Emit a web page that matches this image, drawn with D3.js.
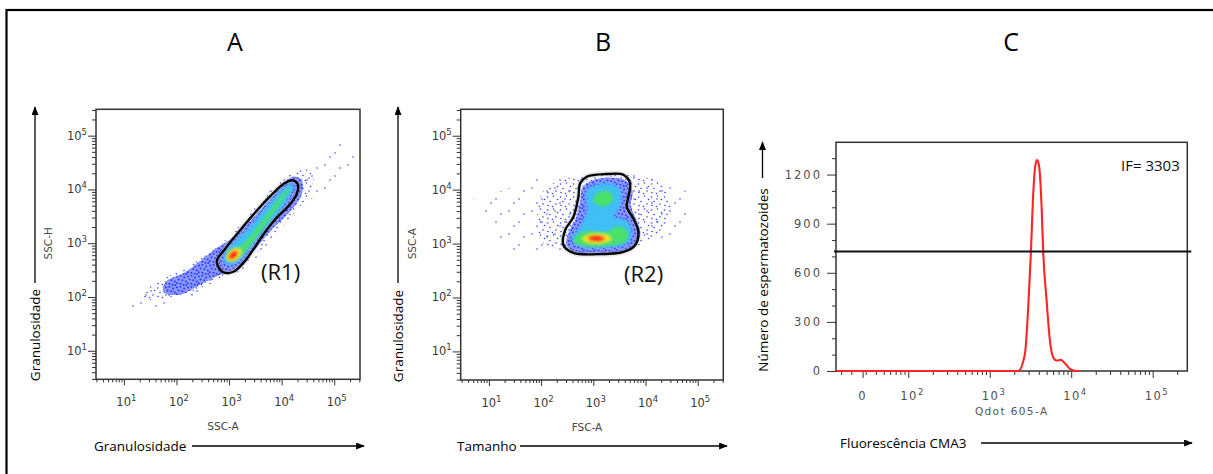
<!DOCTYPE html>
<html><head><meta charset="utf-8">
<script src="https://cdn.jsdelivr.net/npm/d3@7/dist/d3.min.js"></script>
<style>html,body{margin:0;padding:0;background:#fff;}svg{display:block;}</style>
</head><body>
<svg id="chart" width="1213" height="474"></svg>
<script>
// ================= DATA =================
const panelTitles = ["A", "B", "C"];
const xTitles = ["Granulosidade", "Tamanho", "Fluorescência CMA3"];
const yTitles = ["Granulosidade", "Granulosidade", "Número de espermatozoides"];
const channelX = ["SSC-A", "FSC-A", "Qdot 605-A"];
const channelY = ["SSC-H", "SSC-A"];
const gateNames = ["(R1)", "(R2)"];
const decadeExponents = [1, 2, 3, 4, 5];

// Panel A density levels, points in log10 units [log10 SSC-A, log10 SSC-H]
const aSparse = [[1.18,1.73],[1.56,1.79],[2.19,1.95],[2.70,2.17],[3.00,2.35],[3.46,2.66],[3.90,3.16],[4.28,3.59],[4.60,3.84],[4.98,3.96],[5.30,4.40],[5.42,4.70],[5.30,4.82],[4.98,4.85],[4.54,4.58],[4.28,4.33],[3.90,4.09],[3.59,3.71],[3.27,3.34],[2.95,2.97],[2.70,2.79],[2.32,2.54],[1.94,2.35],[1.56,2.17],[1.30,1.98],[1.15,1.85]];
const aSpeckle = [[1.45,1.95],[2.10,2.05],[2.60,2.22],[3.00,2.42],[3.40,2.70],[3.85,3.15],[4.30,3.62],[4.55,3.95],[4.60,4.25],[4.40,4.40],[4.10,4.25],[3.75,3.95],[3.35,3.50],[3.00,3.12],[2.70,2.88],[2.30,2.62],[1.90,2.42],[1.50,2.20],[1.35,2.05]];
const aBlue = [[1.75,2.10],[2.06,2.04],[2.51,2.26],[2.82,2.41],[3.14,2.54],[3.46,2.85],[3.78,3.22],[4.16,3.59],[4.38,3.90],[4.38,4.18],[4.22,4.24],[3.97,4.02],[3.65,3.68],[3.33,3.34],[3.01,3.06],[2.76,2.91],[2.44,2.66],[2.13,2.44],[1.81,2.29]];
const aCyan = [[2.92,2.63],[3.14,2.63],[3.40,2.91],[3.71,3.28],[4.03,3.68],[4.22,4.02],[4.19,4.12],[4.03,4.02],[3.71,3.68],[3.40,3.31],[3.11,3.03],[2.92,2.85]];
const aGreen = [[2.98,2.69],[3.21,2.75],[3.46,3.03],[3.78,3.47],[4.09,3.90],[4.16,4.02],[4.09,3.99],[3.74,3.56],[3.43,3.16],[3.17,2.91],[2.98,2.82]];
const aYellow = [[2.95,2.70],[3.02,2.66],[3.14,2.69],[3.23,2.79],[3.22,2.89],[3.12,2.91],[3.00,2.84]];
const aRed = [[3.00,2.72],[3.06,2.71],[3.14,2.77],[3.16,2.84],[3.10,2.85],[3.02,2.79]];
const gateR1 = [[2.79,2.57],[2.89,2.46],[3.08,2.47],[3.27,2.63],[3.46,2.88],[3.65,3.16],[3.90,3.47],[4.12,3.68],[4.28,3.90],[4.31,4.09],[4.22,4.17],[4.06,4.12],[3.78,3.87],[3.46,3.53],[3.14,3.16],[2.89,2.85],[2.77,2.69]];

// Panel B density levels, points in log10 units [log10 FSC-A, log10 SSC-A]
const bSparse = [[0.70,3.88],[1.22,3.97],[1.79,4.18],[2.43,4.24],[3.26,4.32],[4.15,4.22],[4.66,4.02],[4.98,3.85],[4.79,3.50],[4.60,3.25],[4.41,3.10],[3.83,2.85],[2.75,2.84],[1.98,2.88],[1.27,2.92],[1.10,3.35]];
const bSpeckle = [[2.05,3.99],[2.49,4.21],[3.07,4.30],[3.70,4.27],[4.28,4.12],[4.47,3.81],[4.34,3.31],[3.96,3.00],[3.26,2.89],[2.49,2.91],[2.05,3.00],[1.92,3.43]];
const bBlue = [[2.80,4.05],[3.00,4.18],[3.30,4.22],[3.60,4.18],[3.75,3.98],[3.72,3.70],[3.82,3.45],[3.90,3.20],[3.80,2.95],[3.50,2.85],[3.05,2.83],[2.60,2.86],[2.48,3.00],[2.55,3.25],[2.68,3.50],[2.75,3.80]];
const bCyan = [[2.88,3.99],[3.26,4.12],[3.51,4.02],[3.51,3.68],[3.39,3.50],[3.64,3.43],[3.74,3.22],[3.64,3.00],[3.26,2.93],[2.75,2.95],[2.59,3.09],[2.75,3.31],[2.88,3.62]];
const bGreenTop = [[3.00,3.80],[3.10,3.95],[3.30,3.97],[3.38,3.85],[3.30,3.72],[3.12,3.70]];
const bGreenLow = [[2.62,3.06],[2.81,3.22],[3.26,3.22],[3.45,3.31],[3.64,3.25],[3.64,3.06],[3.39,2.97],[2.75,2.97]];
const bYellow = [[2.78,3.10],[2.90,3.17],[3.10,3.19],[3.30,3.15],[3.35,3.08],[3.20,3.01],[2.90,3.01]];
const bRed = [[2.90,3.10],[3.00,3.14],[3.15,3.13],[3.22,3.09],[3.12,3.05],[2.96,3.06]];
const gateR2 = [[2.747,4.116],[2.875,4.240],[3.258,4.290],[3.577,4.277],[3.704,4.116],[3.672,3.868],[3.640,3.683],[3.768,3.466],[3.864,3.218],[3.800,2.970],[3.577,2.846],[3.066,2.803],[2.620,2.828],[2.428,2.970],[2.460,3.249],[2.620,3.497],[2.715,3.868]];

// Panel C histogram (Qdot 605-A fluorescence vs count)
const histFluor = [13, 500, 1500, 2000, 2237, 2704, 2966, 3203, 3418, 3657, 3826, 4048, 4331, 4532, 4988, 5478, 6011, 6617, 7477, 8371, 9643, 11650, 13000];
const histCount = [0, 0, 0, 0, 0, 105, 389, 729, 1082, 1265, 1289, 1245, 1002, 729, 431, 186, 84, 64, 68, 47, 13, 0, 0];
const histXTicks = [0, 100, 1000, 10000, 100000];
const histXTickExp = ["", "2", "3", "4", "5"];
const histYTicks = [0, 300, 600, 900, 1200];
const histYMinor = [100, 200, 400, 500, 700, 800, 1000, 1100, 1300];
const markerCount = 730;
const meanLabel = "IF= 3303";

// ================= DRAWING =================
const svg = d3.select("#chart");
const defs = svg.append("defs");
const SANS = "'Open Sans', 'DejaVu Sans', sans-serif";
const TICKF = "'DejaVu Sans', Verdana, sans-serif";

// outer border (top and left edges visible)
svg.append("rect").attr("x", 6.5).attr("y", 10).attr("width", 1240).attr("height", 500)
  .attr("fill", "none").attr("stroke", "#000").attr("stroke-width", 2.2);

function addPattern(id, size, bg, dots, r, color) {
  const p = defs.append("pattern").attr("id", id).attr("patternUnits", "userSpaceOnUse")
    .attr("width", size).attr("height", size);
  if (bg) p.append("rect").attr("width", size).attr("height", size).attr("fill", bg);
  dots.forEach(([cx, cy]) => p.append("circle").attr("cx", cx).attr("cy", cy).attr("r", r).attr("fill", color));
}
addPattern("pSparse", 23, null, [[3, 4], [13, 15], [18, 7], [8, 19]], 0.8, "#3346ff");
addPattern("pSpeckle", 13, null, [[1.5, 2], [7.5, 1], [4, 6.5], [10, 9], [11.5, 4.5], [2, 10.5], [6.5, 11.5]], 0.8, "#3040ff");
addPattern("pBlue", 11, "#8594ff", [[1, 1.5], [4.5, 0.8], [8.2, 2.4], [2.6, 4.6], [6.3, 5.2], [9.8, 6.6], [0.8, 8.2], [4.4, 8.8], [7.6, 9.7], [10.4, 10.2]], 1.0, "#1c2eff");

const soft = defs.append("filter").attr("id", "soft").attr("x", "-30%").attr("y", "-30%").attr("width", "160%").attr("height", "160%");
soft.append("feGaussianBlur").attr("stdDeviation", 1.4);
const shadow = defs.append("filter").attr("id", "shadow").attr("x", "-20%").attr("y", "-20%").attr("width", "140%").attr("height", "140%");
shadow.append("feGaussianBlur").attr("stdDeviation", 1.2);

const arrow = defs.append("marker").attr("id", "arrow").attr("viewBox", "0 0 10 8")
  .attr("refX", 9).attr("refY", 4).attr("markerWidth", 9).attr("markerHeight", 7)
  .attr("markerUnits", "userSpaceOnUse").attr("orient", "auto");
arrow.append("path").attr("d", "M0,0 L10,4 L0,8 Z").attr("fill", "#000");

// titles
const titleX = [235, 603, 1011];
panelTitles.forEach((t, i) => svg.append("text").attr("x", titleX[i]).attr("y", 51)
  .attr("text-anchor", "middle").attr("font-family", SANS).attr("font-size", 25).attr("fill", "#000").text(t));

function minorLogTicks(lo, hi) {
  const out = [];
  for (let n = 0; n <= 5; n++) for (let k = 2; k <= 9; k++) {
    const v = k * Math.pow(10, n);
    if (v >= lo && v <= hi) out.push(v);
  }
  return out;
}

function supLabel(sel, exp, sfs) {
  sel.append("tspan").text("10");
  sel.append("tspan").attr("font-size", sfs).attr("dy", -5).text(exp);
}

function densityPanel(cfg) {
  const { x, y, box, levels, gate, gateLabel, gateLabelPos, idx } = cfg;
  const g = svg.append("g");
  const clipId = "clip" + idx;
  defs.append("clipPath").attr("id", clipId).append("rect")
    .attr("x", box[0]).attr("y", box[1]).attr("width", box[2] - box[0]).attr("height", box[3] - box[1]);
  const line = d3.line().x(d => x(Math.pow(10, d[0]))).y(d => y(Math.pow(10, d[1])))
    .curve(d3.curveCatmullRomClosed.alpha(0.5));
  const dg = g.append("g").attr("clip-path", `url(#${clipId})`);
  levels.forEach(L => {
    const p = dg.append("path").attr("d", line(L.pts)).attr("fill", L.fill);
    if (L.blur) p.attr("filter", "url(#soft)");
    if (L.opacity) p.attr("opacity", L.opacity);
  });
  dg.append("path").attr("d", line(gate)).attr("fill", "none").attr("stroke", "#9a9a9a")
    .attr("stroke-width", 4).attr("opacity", 0.5).attr("filter", "url(#shadow)");
  dg.append("path").attr("d", line(gate)).attr("fill", "none").attr("stroke", "#000").attr("stroke-width", 2.3);
  g.append("text").attr("x", gateLabelPos[0]).attr("y", gateLabelPos[1]).attr("dominant-baseline", "central")
    .attr("font-family", SANS).attr("font-size", 22).attr("fill", "#111").text(gateLabel);

  g.append("rect").attr("x", box[0]).attr("y", box[1]).attr("width", box[2] - box[0]).attr("height", box[3] - box[1])
    .attr("fill", "none").attr("stroke", "#333").attr("stroke-width", 1.5);

  const dom = x.domain();
  const minor = minorLogTicks(dom[0], dom[1]);
  const majors = decadeExponents.map(e => Math.pow(10, e));
  const gx = g.append("g").attr("transform", `translate(0,${box[3]})`);
  gx.append("g").call(d3.axisBottom(x).tickValues(minor).tickSize(3).tickFormat("")).call(s => s.select(".domain").remove());
  gx.append("g").call(d3.axisBottom(x).tickValues(majors).tickSize(6).tickFormat("")).call(s => s.select(".domain").remove());
  gx.selectAll("line").attr("stroke", "#333");
  decadeExponents.forEach(e => {
    const t = gx.append("text").attr("x", x(Math.pow(10, e)) - 7.5).attr("y", 27)
      .attr("font-family", TICKF).attr("font-size", 11.5).attr("fill", "#383838");
    supLabel(t, e, 8.5);
  });
  const domY = y.domain();
  const minorY = minorLogTicks(domY[0], domY[1]);
  const gy = g.append("g").attr("transform", `translate(${box[0]},0)`);
  gy.append("g").call(d3.axisLeft(y).tickValues(minorY).tickSize(4).tickFormat("")).call(s => s.select(".domain").remove());
  gy.append("g").call(d3.axisLeft(y).tickValues(majors).tickSize(8).tickFormat("")).call(s => s.select(".domain").remove());
  gy.selectAll("line").attr("stroke", "#333");
  decadeExponents.forEach(e => {
    const t = gy.append("text").attr("x", -9).attr("y", y(Math.pow(10, e)) + 4)
      .attr("text-anchor", "end").attr("font-family", TICKF).attr("font-size", 11.5).attr("fill", "#383838");
    supLabel(t, e, 8.5);
  });
  g.append("text").attr("x", (box[0] + box[2]) / 2 - 5).attr("y", box[3] + 51).attr("text-anchor", "middle")
    .attr("font-family", TICKF).attr("font-size", 10.5).attr("fill", "#444").text(channelX[idx]);
  g.append("text").attr("transform", `translate(${cfg.chanYX},${(box[1] + box[3]) / 2 - 1}) rotate(-90)`)
    .attr("text-anchor", "middle").attr("font-family", TICKF).attr("font-size", 10.5).attr("fill", "#444").text(channelY[idx]);
}

function levelsFrom(sp, spk, blue, cyan, greens, yellow, red) {
  const arr = [
    { pts: sp, fill: "url(#pSparse)" },
    { pts: spk, fill: "url(#pSpeckle)" },
    { pts: blue, fill: "url(#pBlue)", opacity: 0.95 },
    { pts: cyan, fill: "#3cc3f5", blur: true, opacity: 0.95 }
  ];
  greens.forEach(gp => arr.push({ pts: gp, fill: "#48e06a", blur: true }));
  arr.push({ pts: yellow, fill: "#f3e22e", blur: true });
  arr.push({ pts: red, fill: "#ff2a10", blur: true });
  return arr;
}

// Panel A
const xA = d3.scaleLog().domain([Math.pow(10, 0.47), Math.pow(10, 5.49)]).range([96, 360]);
const yA = d3.scaleLog().domain([Math.pow(10, 0.47), Math.pow(10, 5.49)]).range([379.3, 109.3]);
densityPanel({ idx: 0, x: xA, y: yA, box: [96, 109.3, 360, 379.3], chanYX: 52,
  levels: levelsFrom(aSparse, aSpeckle, aBlue, aCyan, [aGreen], aYellow, aRed),
  gate: gateR1, gateLabel: gateNames[0], gateLabelPos: [261, 271] });

// Panel B
const xB = d3.scaleLog().domain([Math.pow(10, 0.46), Math.pow(10, 5.49)]).range([460.7, 723.3]);
const yB = d3.scaleLog().domain([Math.pow(10, 0.47), Math.pow(10, 5.49)]).range([380, 109.3]);
densityPanel({ idx: 1, x: xB, y: yB, box: [460.7, 109.3, 723.3, 380], chanYX: 416,
  levels: levelsFrom(bSparse, bSpeckle, bBlue, bCyan, [bGreenTop, bGreenLow], bYellow, bRed),
  gate: gateR2, gateLabel: gateNames[1], gateLabelPos: [624, 273] });

// Panel C
const boxC = [836, 142.3, 1187.3, 371];
const zeroDisplay = 27.5; // fluorescence value where the "0" of the display axis sits
const xC = d3.scaleLog().domain([12.97, 266000]).range([boxC[0], boxC[2]]);
const yC = d3.scaleLinear().domain([0, 1397]).range([boxC[3], boxC[1]]);
const gC = svg.append("g");
gC.append("rect").attr("x", boxC[0]).attr("y", boxC[1]).attr("width", boxC[2] - boxC[0]).attr("height", boxC[3] - boxC[1])
  .attr("fill", "none").attr("stroke", "#333").attr("stroke-width", 1.5);
const gyC = gC.append("g").attr("transform", `translate(${boxC[0]},0)`);
gyC.append("g").call(d3.axisLeft(yC).tickValues(histYMinor).tickSize(4).tickFormat("")).call(s => s.select(".domain").remove());
gyC.append("g").call(d3.axisLeft(yC).tickValues(histYTicks).tickSize(9).tickFormat("")).call(s => s.select(".domain").remove());
gyC.selectAll("line").attr("stroke", "#333");
histYTicks.forEach(v => gyC.append("text").attr("x", -14).attr("y", yC(v) + 4).attr("text-anchor", "end")
  .attr("font-family", TICKF).attr("font-size", 11.5).attr("letter-spacing", 2).attr("fill", "#505050").text(v));
const cxPos = v => xC(v <= 0 ? zeroDisplay : v);
const histXMinor = [15, 20, 30, 40, 50, 60, 70, 80, 90].concat(minorLogTicks(100, 266000));
const gxC = gC.append("g").attr("transform", `translate(0,${boxC[3]})`);
gxC.append("g").call(d3.axisBottom(xC).tickValues(histXMinor).tickSize(4).tickFormat("")).call(s => s.select(".domain").remove());
gxC.append("g").call(d3.axisBottom(xC).tickValues(histXTicks.map(v => v <= 0 ? zeroDisplay : v)).tickSize(7).tickFormat("")).call(s => s.select(".domain").remove());
gxC.selectAll("line").attr("stroke", "#333");
histXTicks.forEach((v, i) => {
  const t = gxC.append("text").attr("y", 29).attr("font-family", TICKF).attr("font-size", 11.5)
    .attr("letter-spacing", 1.5).attr("fill", "#505050");
  if (v === 0) { t.attr("x", cxPos(v)).attr("text-anchor", "middle").text("0"); }
  else { t.attr("x", cxPos(v) - 8); supLabel(t, histXTickExp[i], 8.5); }
});
gC.append("text").attr("x", 1011.7).attr("y", 415).attr("text-anchor", "middle").attr("font-family", TICKF)
  .attr("font-size", 10.5).attr("letter-spacing", 1.4).attr("fill", "#555").text(channelX[2]);
const histPts = histFluor.map((f, i) => [f, histCount[i]]);
gC.append("path").attr("d", d3.line().x(d => xC(d[0])).y(d => yC(d[1])).curve(d3.curveMonotoneX)(histPts))
  .attr("fill", "none").attr("stroke", "#ff2424").attr("stroke-width", 2.1).attr("stroke-linejoin", "round");
gC.append("line").attr("x1", boxC[0] - 2).attr("x2", boxC[2] + 4).attr("y1", yC(markerCount)).attr("y2", yC(markerCount))
  .attr("stroke", "#111").attr("stroke-width", 2);
gC.append("text").attr("x", 1121).attr("y", 170.5).attr("font-family", SANS).attr("font-size", 15).attr("fill", "#111").text(meanLabel);

// axis titles with arrows
const xTitlePos = [[94, 446, 192, 364], [457, 446, 520, 727], [840, 443, 981, 1192]];
xTitles.forEach((t, i) => {
  const p = xTitlePos[i];
  svg.append("text").attr("x", p[0]).attr("y", p[1]).attr("dominant-baseline", "central")
    .attr("font-family", SANS).attr("font-size", 13.5).attr("fill", "#000").text(t);
  svg.append("line").attr("x1", p[2]).attr("x2", p[3]).attr("y1", p[1]).attr("y2", p[1])
    .attr("stroke", "#000").attr("stroke-width", 1.3).attr("marker-end", "url(#arrow)");
});
const yTitlePos = [[35, 335, 283, 107], [398, 336, 283, 107], [762.5, 280, 178, 142]];
yTitles.forEach((t, i) => {
  const p = yTitlePos[i];
  svg.append("text").attr("transform", `translate(${p[0]},${p[1]}) rotate(-90)`).attr("text-anchor", "middle")
    .attr("dominant-baseline", "central").attr("font-family", SANS).attr("font-size", 13.5).attr("fill", "#000").text(t);
  svg.append("line").attr("x1", p[0]).attr("x2", p[0]).attr("y1", p[2]).attr("y2", p[3])
    .attr("stroke", "#000").attr("stroke-width", 1.3).attr("marker-end", "url(#arrow)");
});
</script>
</body></html>
